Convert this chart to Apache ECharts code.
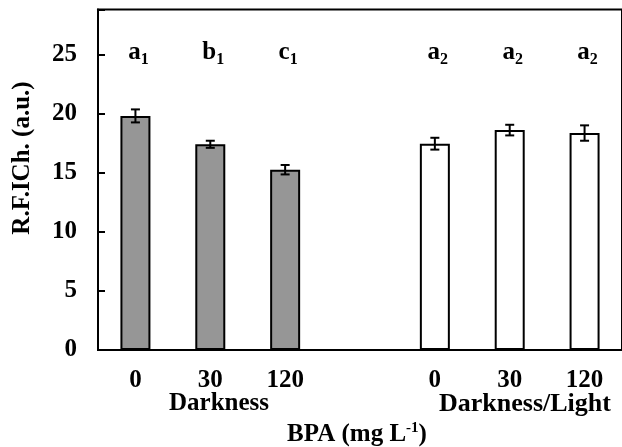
<!DOCTYPE html>
<html>
<head>
<meta charset="utf-8">
<script src="https://cdn.jsdelivr.net/npm/echarts@6/dist/echarts.min.js"></script>
<style>
  html, body { margin: 0; padding: 0; background: #fff; }
  #main { width: 622px; height: 447px; }
</style>
</head>
<body>
<div id="main"></div>
<script>
// 数据
const categories = ['0', '30', '120', '', '0', '30', '120']
const darkValues = [19.8, 17.4, 15.25, '-', '-', '-', '-']
const lightValues = ['-', '-', '-', '-', 17.45, 18.6, 18.35]
const errValues = [0.55, 0.3, 0.4, null, 0.5, 0.45, 0.65]
const letters = ['a', 'b', 'c', '', 'a', 'a', 'a']
const letterSubs = ['1', '1', '1', '', '2', '2', '2']
const letterLevel = 25.2
const yTicks = [0, 5, 10, 15, 20, 25]

const FONT = "'Liberation Serif', 'Times New Roman', serif"

// 误差棒数据 [类别索引, 均值, 误差]
const errData = []
errValues.forEach((e, i) => {
  if (e == null) return
  const v = darkValues[i] !== '-' ? darkValues[i] : lightValues[i]
  errData.push([i, v, e])
})

// 显著性字母
const letterData = []
letters.forEach((l, i) => {
  if (l) letterData.push([i, letterLevel, l, letterSubs[i]])
})

let myChart = echarts.init(document.getElementById('main'))

let option = {
  animation: false,
  grid: {
    left: 98, right: -2, top: 9.5, bottom: 97,
    show: true, borderColor: '#000', borderWidth: 2, backgroundColor: 'transparent'
  },
  xAxis: {
    type: 'category',
    data: categories,
    axisLine: { lineStyle: { color: '#000', width: 2 } },
    axisTick: { inside: true, length: 6, lineStyle: { color: '#000', width: 2 } },
    axisLabel: { color: '#000', fontFamily: FONT, fontWeight: 'bold', fontSize: 25, margin: 18 }
  },
  yAxis: {
    type: 'value',
    min: 0, max: 28.8, interval: 5,
    splitLine: { show: false },
    axisLine: { show: true, lineStyle: { color: '#000', width: 2 } },
    axisTick: { show: true, inside: true, length: 7, lineStyle: { color: '#000', width: 2 } },
    axisLabel: {
      color: '#000', fontFamily: FONT, fontWeight: 'bold', fontSize: 25, margin: 21,
      formatter: v => yTicks.indexOf(v) >= 0 ? String(v) : ''
    }
  },
  series: [
    {
      name: 'Darkness',
      type: 'bar',
      data: darkValues,
      barWidth: 30,
      barGap: '-100%',
      itemStyle: { color: '#969696', borderColor: '#000', borderWidth: 2 }
    },
    {
      name: 'Darkness/Light',
      type: 'bar',
      data: lightValues,
      barWidth: 30,
      itemStyle: { color: '#fff', borderColor: '#000', borderWidth: 2 }
    },
    {
      name: 'err',
      type: 'custom',
      z: 10,
      data: errData,
      renderItem: (params, api) => {
        const x = api.value(0)
        const m = api.value(1)
        const e = api.value(2)
        const hi = api.coord([x, m + e])
        const lo = api.coord([x, m - e])
        const hw = 4.5
        const st = { stroke: '#000', lineWidth: 2 }
        return {
          type: 'group',
          children: [
            { type: 'line', shape: { x1: hi[0], y1: hi[1], x2: lo[0], y2: lo[1] }, style: st },
            { type: 'line', shape: { x1: hi[0] - hw, y1: hi[1], x2: hi[0] + hw, y2: hi[1] }, style: st },
            { type: 'line', shape: { x1: lo[0] - hw, y1: lo[1], x2: lo[0] + hw, y2: lo[1] }, style: st }
          ]
        }
      }
    },
    {
      name: 'letters',
      type: 'scatter',
      symbolSize: 0,
      data: letterData,
      itemStyle: { opacity: 1, color: '#000' },
      label: {
        show: true,
        position: 'inside',
        offset: [3, 0],
        color: '#000',
        opacity: 1,
        formatter: p => '{m|' + p.value[2] + '}{s|' + p.value[3] + '}',
        rich: {
          m: { fontFamily: FONT, fontWeight: 'bold', fontSize: 25, color: '#000', lineHeight: 32 },
          s: { fontFamily: FONT, fontWeight: 'bold', fontSize: 16, color: '#000', verticalAlign: 'bottom', lineHeight: 32 }
        }
      }
    }
  ],
  graphic: [
    {
      type: 'text', x: 23, y: 158, rotation: Math.PI / 2,
      style: { text: 'R.F.ICh. (a.u.)', font: 'bold 25px ' + FONT, fill: '#000', textAlign: 'center', textVerticalAlign: 'middle' }
    },
    {
      type: 'text', x: 219, y: 404,
      style: { text: 'Darkness', font: 'bold 25px ' + FONT, fill: '#000', textAlign: 'center', textVerticalAlign: 'middle' }
    },
    {
      type: 'text', x: 525, y: 404,
      style: { text: 'Darkness/Light', font: 'bold 26px ' + FONT, fill: '#000', textAlign: 'center', textVerticalAlign: 'middle' }
    },
    {
      type: 'text', x: 357, y: 435,
      style: {
        text: '{m|BPA (mg L}{s|-1}{m|)}',
        textAlign: 'center', textVerticalAlign: 'middle',
        rich: {
          m: { fontFamily: FONT, fontWeight: 'bold', fontSize: 25, fill: '#000', lineHeight: 28 },
          s: { fontFamily: FONT, fontWeight: 'bold', fontSize: 15, fill: '#000', verticalAlign: 'top', lineHeight: 28 }
        }
      }
    }
  ]
}

myChart.setOption(option)
</script>
</body>
</html>
